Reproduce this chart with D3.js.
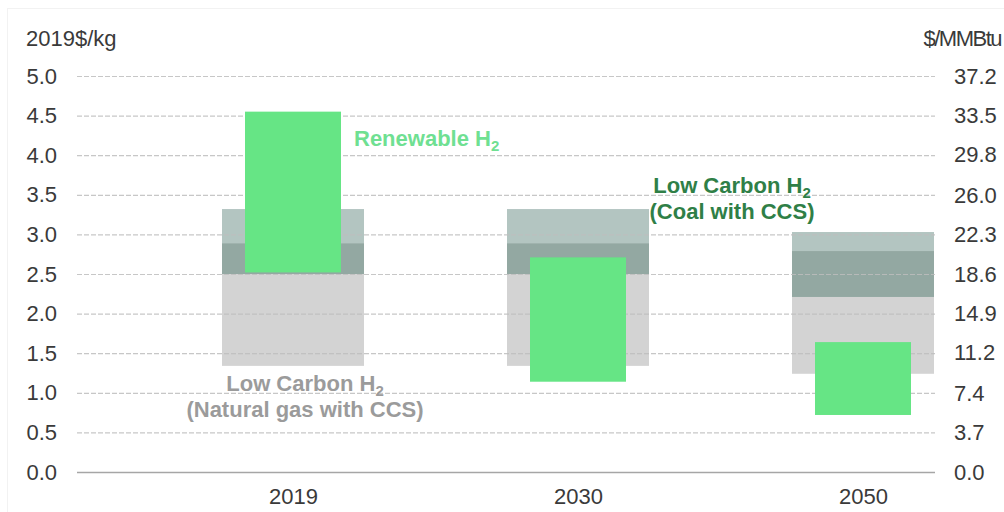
<!DOCTYPE html>
<html>
<head>
<meta charset="utf-8">
<script src="https://cdn.jsdelivr.net/npm/d3@7/dist/d3.min.js"></script>
<style>
  html, body { margin: 0; padding: 0; background: #fff; }
  svg { display: block; font-family: "Liberation Sans", Arial, sans-serif; }
</style>
</head>
<body>
<svg id="chart" width="1004" height="512"></svg>
<script>
// ---- data ----
const years = ["2019", "2030", "2050"];
// Low carbon H2 from natural gas with CCS (range, $/kg)
const gasLow  = [1.34, 1.34, 1.24];
const gasHigh = [2.89, 2.89, 2.79];
// Low carbon H2 from coal with CCS (range, $/kg)
const coalLow  = [2.50, 2.50, 2.21];
const coalHigh = [3.32, 3.32, 3.03];
// Renewable H2 (range, $/kg)
const renewLow  = [2.52, 1.14, 0.72];
const renewHigh = [4.55, 2.71, 1.64];
// axis ticks
const leftTicks  = [0.0, 0.5, 1.0, 1.5, 2.0, 2.5, 3.0, 3.5, 4.0, 4.5, 5.0];
const rightTicks = [0.0, 3.7, 7.4, 11.2, 14.9, 18.6, 22.3, 26.0, 29.8, 33.5, 37.2];

// ---- layout ----
const svg = d3.select("#chart");
const plotL = 77, plotR = 935, plotT = 76, plotB = 472;
const firstC = 293, lastC = 863;
const greyW = 142, greenW = 96;

const y = d3.scaleLinear().domain([0, 5]).range([plotB, plotT]);
const yR = d3.scaleLinear().domain([0, 37.2]).range([plotB, plotT]);
const x = d3.scalePoint().domain(years).range([firstC, lastC]);

// faint frame
svg.append("rect").attr("x", 7.5).attr("y", 8.5).attr("width", 1010).attr("height", 520)
  .attr("fill", "none").attr("stroke", "#f2f2f2");

// grey stacked ranges
const idx = years.map((_, i) => i);
const g = svg.append("g");
// gas-only part
g.selectAll("rect.gas").data(idx).join("rect").attr("class", "gas")
  .attr("x", i => x(years[i]) - greyW / 2).attr("width", greyW)
  .attr("y", i => y(coalLow[i])).attr("height", i => y(gasLow[i]) - y(coalLow[i]))
  .attr("fill", "#d3d3d3");
// overlap
g.selectAll("rect.ovl").data(idx).join("rect").attr("class", "ovl")
  .attr("x", i => x(years[i]) - greyW / 2).attr("width", greyW)
  .attr("y", i => y(gasHigh[i])).attr("height", i => y(coalLow[i]) - y(gasHigh[i]))
  .attr("fill", "#93a8a2");
// coal-only part
g.selectAll("rect.coal").data(idx).join("rect").attr("class", "coal")
  .attr("x", i => x(years[i]) - greyW / 2).attr("width", greyW)
  .attr("y", i => y(coalHigh[i])).attr("height", i => y(gasHigh[i]) - y(coalHigh[i]))
  .attr("fill", "#b3c5c1");

// gridlines (drawn over grey ranges, under renewable boxes)
svg.append("g")
  .selectAll("line")
  .data(leftTicks.filter(d => d > 0))
  .join("line")
  .attr("x1", plotL).attr("x2", plotR)
  .attr("y1", d => y(d) + 0.5).attr("y2", d => y(d) + 0.5)
  .attr("stroke", "#bdbdbd").attr("stroke-opacity", 0.85).attr("stroke-width", 1.2)
  .attr("stroke-dasharray", "5,2");

// renewable
svg.append("g").selectAll("rect").data(idx).join("rect")
  .attr("x", i => x(years[i]) - greenW / 2).attr("width", greenW)
  .attr("y", i => y(renewHigh[i])).attr("height", i => y(renewLow[i]) - y(renewHigh[i]))
  .attr("fill", "#66e585");

// baseline
svg.append("line").attr("x1", plotL).attr("x2", plotR)
  .attr("y1", plotB + 0.5).attr("y2", plotB + 0.5)
  .attr("stroke", "#a6a6a6").attr("stroke-width", 1.5);

// left axis
const axL = svg.append("g").attr("transform", `translate(${plotL - 20},0)`)
  .call(d3.axisLeft(y).tickValues(leftTicks).tickFormat(d3.format(".1f")).tickSize(0).tickPadding(0));
axL.select(".domain").remove();
axL.selectAll("text").attr("font-size", 22).attr("fill", "#3a3a3a")
  .attr("font-family", "'Liberation Sans', Arial, sans-serif");

// right axis
const axR = svg.append("g").attr("transform", `translate(${plotR + 19},0)`)
  .call(d3.axisRight(yR).tickValues(rightTicks).tickFormat(d3.format(".1f")).tickSize(0).tickPadding(0));
axR.select(".domain").remove();
axR.selectAll("text").attr("font-size", 22).attr("fill", "#3a3a3a")
  .attr("font-family", "'Liberation Sans', Arial, sans-serif");

// x axis labels
const axX = svg.append("g").attr("transform", `translate(0,${plotB + 24})`)
  .call(d3.axisBottom(x).tickSize(0).tickPadding(0));
axX.select(".domain").remove();
axX.selectAll("text").attr("font-size", 22).attr("fill", "#3a3a3a")
  .attr("font-family", "'Liberation Sans', Arial, sans-serif")
  .attr("dy", "0.35em");

// unit labels
svg.append("text").attr("x", 26).attr("y", 46).attr("font-size", 22).attr("fill", "#3a3a3a")
  .text("2019$/kg");
svg.append("text").attr("x", 1001).attr("y", 46).attr("font-size", 22).attr("fill", "#3a3a3a")
  .attr("text-anchor", "end").attr("letter-spacing", -1.5).text("$/MMBtu");

// annotations
function h2Label(xp, yp, anchor, color, line1, line2) {
  const t = svg.append("text").attr("x", xp).attr("y", yp)
    .attr("text-anchor", anchor).attr("fill", color)
    .attr("font-size", 22).attr("font-weight", "bold");
  t.append("tspan").text(line1);
  t.append("tspan").attr("font-size", 15).attr("dy", 5).text("2");
  if (line2) {
    svg.append("text").attr("x", xp).attr("y", yp + 26)
      .attr("text-anchor", anchor).attr("fill", color)
      .attr("font-size", 22).attr("font-weight", "bold").text(line2);
  }
}
h2Label(354, 146, "start", "#6fe092", "Renewable H", null);
h2Label(732, 193, "middle", "#2f7f47", "Low Carbon H", "(Coal with CCS)");
h2Label(305, 391, "middle", "#9b9b9b", "Low Carbon H", "(Natural gas with CCS)");
</script>
</body>
</html>
